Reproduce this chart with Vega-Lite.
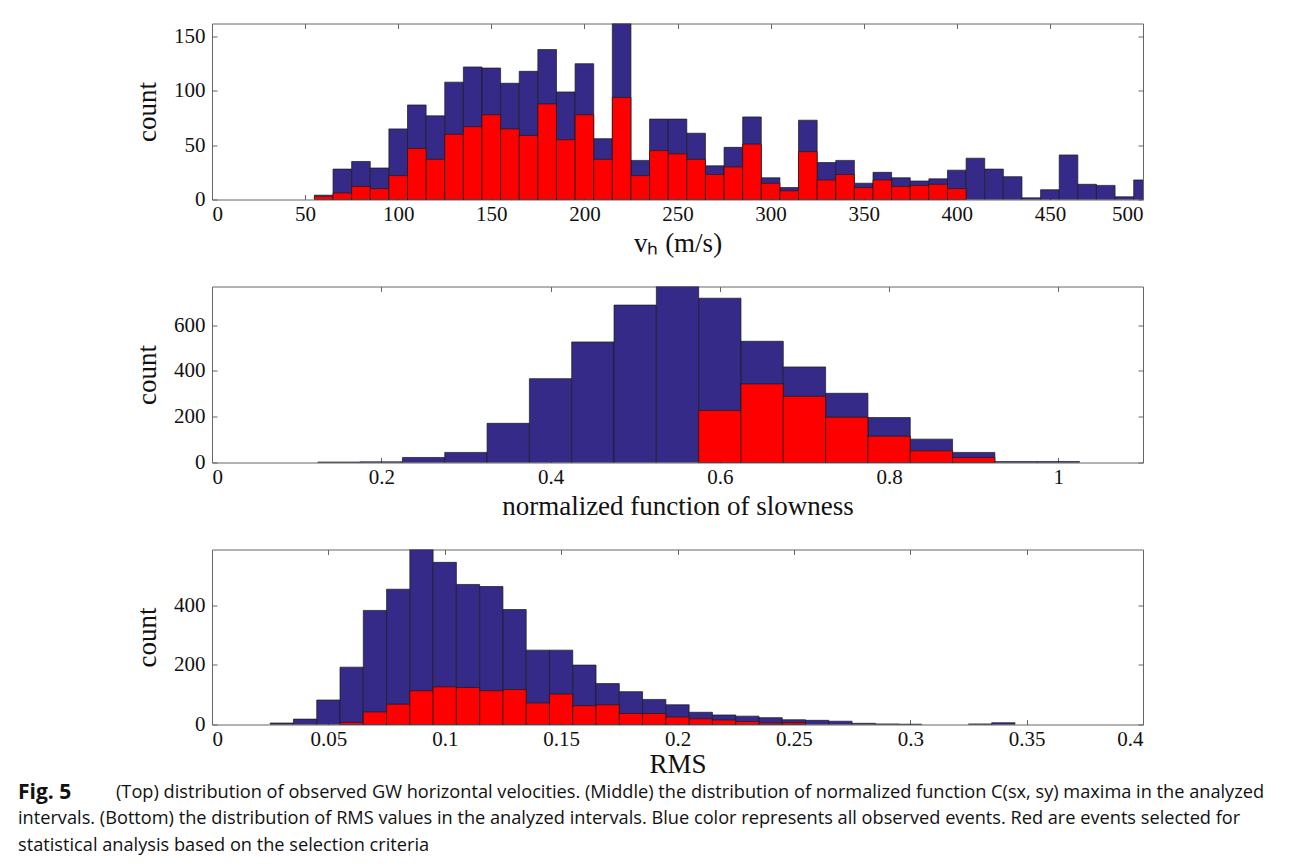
{
  "$schema": "https://vega.github.io/schema/vega-lite/v6.json",
  "padding": {"left": 18, "top": 22.5, "right": 5, "bottom": 5},
  "bounds": "flush",
  "spacing": 87,
  "background": "white",
  "config": {
    "view": {"stroke": "#666666", "strokeWidth": 1},
    "font": "Liberation Serif",
    "axis": {
      "grid": false,
      "domain": false,
      "tickSize": -5,
      "tickColor": "#666666",
      "tickWidth": 1,
      "labelFont": "Liberation Serif",
      "labelFontSize": 21,
      "labelColor": "#111111",
      "titleFont": "Liberation Serif",
      "titleFontSize": 27,
      "titleFontWeight": "normal",
      "titleColor": "#111111"
    },
    "axisBottom": {"labelPadding": 9, "titlePadding": 6},
    "axisLeft": {"labelPadding": 12, "titlePadding": 12}
  },
  "datasets": {
    "vh": [
      {"lo": 55, "hi": 65, "all": 4, "sel": 3},
      {"lo": 65, "hi": 75, "all": 28, "sel": 6},
      {"lo": 75, "hi": 85, "all": 35, "sel": 12},
      {"lo": 85, "hi": 95, "all": 29, "sel": 10},
      {"lo": 95, "hi": 105, "all": 65, "sel": 22},
      {"lo": 105, "hi": 115, "all": 87, "sel": 47},
      {"lo": 115, "hi": 125, "all": 77, "sel": 37},
      {"lo": 125, "hi": 135, "all": 108, "sel": 60},
      {"lo": 135, "hi": 145, "all": 122, "sel": 67},
      {"lo": 145, "hi": 155, "all": 121, "sel": 78},
      {"lo": 155, "hi": 165, "all": 107, "sel": 65},
      {"lo": 165, "hi": 175, "all": 118, "sel": 59},
      {"lo": 175, "hi": 185, "all": 138, "sel": 88},
      {"lo": 185, "hi": 195, "all": 99, "sel": 55},
      {"lo": 195, "hi": 205, "all": 125, "sel": 78},
      {"lo": 205, "hi": 215, "all": 56, "sel": 37},
      {"lo": 215, "hi": 225, "all": 162, "sel": 94},
      {"lo": 225, "hi": 235, "all": 36, "sel": 22},
      {"lo": 235, "hi": 245, "all": 74, "sel": 45},
      {"lo": 245, "hi": 255, "all": 74, "sel": 42},
      {"lo": 255, "hi": 265, "all": 61, "sel": 37},
      {"lo": 265, "hi": 275, "all": 31, "sel": 23},
      {"lo": 275, "hi": 285, "all": 48, "sel": 30},
      {"lo": 285, "hi": 295, "all": 76, "sel": 51},
      {"lo": 295, "hi": 305, "all": 20, "sel": 15},
      {"lo": 305, "hi": 315, "all": 11, "sel": 8},
      {"lo": 315, "hi": 325, "all": 73, "sel": 44},
      {"lo": 325, "hi": 335, "all": 34, "sel": 18},
      {"lo": 335, "hi": 345, "all": 36, "sel": 23},
      {"lo": 345, "hi": 355, "all": 15, "sel": 11},
      {"lo": 355, "hi": 365, "all": 25, "sel": 18},
      {"lo": 365, "hi": 375, "all": 20, "sel": 12},
      {"lo": 375, "hi": 385, "all": 17, "sel": 13},
      {"lo": 385, "hi": 395, "all": 19, "sel": 14},
      {"lo": 395, "hi": 405, "all": 27, "sel": 10},
      {"lo": 405, "hi": 415, "all": 38, "sel": 0},
      {"lo": 415, "hi": 425, "all": 28, "sel": 0},
      {"lo": 425, "hi": 435, "all": 21, "sel": 0},
      {"lo": 435, "hi": 445, "all": 1.5, "sel": 0},
      {"lo": 445, "hi": 455, "all": 9, "sel": 0},
      {"lo": 455, "hi": 465, "all": 41, "sel": 0},
      {"lo": 465, "hi": 475, "all": 14, "sel": 0},
      {"lo": 475, "hi": 485, "all": 13, "sel": 0},
      {"lo": 485, "hi": 495, "all": 2.5, "sel": 0},
      {"lo": 495, "hi": 505, "all": 18, "sel": 0}
    ],
    "slow": [
      {"lo": 0.125, "hi": 0.175, "all": 2, "sel": 0},
      {"lo": 0.175, "hi": 0.225, "all": 3, "sel": 0},
      {"lo": 0.225, "hi": 0.275, "all": 22, "sel": 0},
      {"lo": 0.275, "hi": 0.325, "all": 44, "sel": 0},
      {"lo": 0.325, "hi": 0.375, "all": 171, "sel": 0},
      {"lo": 0.375, "hi": 0.425, "all": 366, "sel": 0},
      {"lo": 0.425, "hi": 0.475, "all": 526, "sel": 0},
      {"lo": 0.475, "hi": 0.525, "all": 687, "sel": 0},
      {"lo": 0.525, "hi": 0.575, "all": 768, "sel": 0},
      {"lo": 0.575, "hi": 0.625, "all": 717, "sel": 227},
      {"lo": 0.625, "hi": 0.675, "all": 529, "sel": 343},
      {"lo": 0.675, "hi": 0.725, "all": 417, "sel": 289},
      {"lo": 0.725, "hi": 0.775, "all": 302, "sel": 198},
      {"lo": 0.775, "hi": 0.825, "all": 196, "sel": 115},
      {"lo": 0.825, "hi": 0.875, "all": 102, "sel": 51},
      {"lo": 0.875, "hi": 0.925, "all": 44, "sel": 22},
      {"lo": 0.925, "hi": 0.975, "all": 4, "sel": 0},
      {"lo": 0.975, "hi": 1.025, "all": 4, "sel": 0}
    ],
    "rms": [
      {"lo": 0.025, "hi": 0.035, "all": 5, "sel": 0},
      {"lo": 0.035, "hi": 0.045, "all": 18, "sel": 0},
      {"lo": 0.045, "hi": 0.055, "all": 82, "sel": 0},
      {"lo": 0.055, "hi": 0.065, "all": 192, "sel": 7},
      {"lo": 0.065, "hi": 0.075, "all": 382, "sel": 42},
      {"lo": 0.075, "hi": 0.085, "all": 453, "sel": 68},
      {"lo": 0.085, "hi": 0.095, "all": 586, "sel": 113},
      {"lo": 0.095, "hi": 0.105, "all": 543, "sel": 126},
      {"lo": 0.105, "hi": 0.115, "all": 469, "sel": 124},
      {"lo": 0.115, "hi": 0.125, "all": 462, "sel": 113},
      {"lo": 0.125, "hi": 0.135, "all": 385, "sel": 117},
      {"lo": 0.135, "hi": 0.145, "all": 249, "sel": 72},
      {"lo": 0.145, "hi": 0.155, "all": 249, "sel": 102},
      {"lo": 0.155, "hi": 0.165, "all": 199, "sel": 63},
      {"lo": 0.165, "hi": 0.175, "all": 137, "sel": 66},
      {"lo": 0.175, "hi": 0.185, "all": 110, "sel": 37},
      {"lo": 0.185, "hi": 0.195, "all": 84, "sel": 37},
      {"lo": 0.195, "hi": 0.205, "all": 66, "sel": 25},
      {"lo": 0.205, "hi": 0.215, "all": 41, "sel": 19},
      {"lo": 0.215, "hi": 0.225, "all": 32, "sel": 15},
      {"lo": 0.225, "hi": 0.235, "all": 28, "sel": 10},
      {"lo": 0.235, "hi": 0.245, "all": 23, "sel": 5},
      {"lo": 0.245, "hi": 0.255, "all": 16, "sel": 6},
      {"lo": 0.255, "hi": 0.265, "all": 14, "sel": 0},
      {"lo": 0.265, "hi": 0.275, "all": 11, "sel": 0},
      {"lo": 0.275, "hi": 0.285, "all": 4, "sel": 0},
      {"lo": 0.285, "hi": 0.295, "all": 2, "sel": 0},
      {"lo": 0.295, "hi": 0.305, "all": 1, "sel": 0},
      {"lo": 0.325, "hi": 0.335, "all": 2, "sel": 0},
      {"lo": 0.335, "hi": 0.345, "all": 6, "sel": 0}
    ],
    "caption": [
      {"line": 1, "part": "label", "text": "Fig. 5"},
      {"line": 1, "part": "body", "text": "(Top) distribution of observed GW horizontal velocities. (Middle) the distribution of normalized function C(sx, sy) maxima in the analyzed"},
      {"line": 2, "part": "cont", "text": "intervals. (Bottom) the distribution of RMS values in the analyzed intervals. Blue color represents all observed events. Red are events selected for"},
      {"line": 3, "part": "cont", "text": "statistical analysis based on the selection criteria"}
    ]
  },
  "vconcat": [
    {
      "width": 931,
      "height": 176,
      "data": {"name": "vh"},
      "layer": [
        {
          "mark": {"type": "bar", "color": "#352a87", "stroke": "#1a1a1a", "strokeWidth": 0.7, "clip": true},
          "encoding": {
            "x": {"field": "lo", "type": "quantitative", "scale": {"domain": [0, 500], "nice": false, "zero": false},
                  "axis": {"orient": "bottom", "values": [0, 50, 100, 150, 200, 250, 300, 350, 400, 450, 500], "title": "vₕ (m/s)"}},
            "x2": {"field": "hi"},
            "y": {"field": "all", "type": "quantitative", "scale": {"domain": [0, 162], "nice": false},
                  "axis": {"orient": "left", "values": [0, 50, 100, 150], "title": "count"}},
            "y2": {"datum": 0}
          }
        },
        {
          "transform": [{"filter": "datum.sel > 0"}],
          "mark": {"type": "bar", "color": "#ff0000", "stroke": "#1a1a1a", "strokeWidth": 0.7, "clip": true},
          "encoding": {
            "x": {"field": "lo", "type": "quantitative", "scale": {"domain": [0, 500], "nice": false, "zero": false},
                  "axis": {"orient": "top", "values": [0, 50, 100, 150, 200, 250, 300, 350, 400, 450, 500], "labels": false, "title": null}},
            "x2": {"field": "hi"},
            "y": {"field": "sel", "type": "quantitative", "scale": {"domain": [0, 162], "nice": false},
                  "axis": {"orient": "right", "values": [0, 50, 100, 150], "labels": false, "title": null}},
            "y2": {"datum": 0}
          }
        }
      ],
      "resolve": {"axis": {"x": "independent", "y": "independent"}}
    },
    {
      "width": 931,
      "height": 176,
      "data": {"name": "slow"},
      "layer": [
        {
          "mark": {"type": "bar", "color": "#352a87", "stroke": "#1a1a1a", "strokeWidth": 0.7, "clip": true},
          "encoding": {
            "x": {"field": "lo", "type": "quantitative", "scale": {"domain": [0, 1.1], "nice": false, "zero": false},
                  "axis": {"orient": "bottom", "values": [0, 0.2, 0.4, 0.6, 0.8, 1], "format": "~g", "title": "normalized function of slowness"}},
            "x2": {"field": "hi"},
            "y": {"field": "all", "type": "quantitative", "scale": {"domain": [0, 768], "nice": false},
                  "axis": {"orient": "left", "values": [0, 200, 400, 600], "title": "count"}},
            "y2": {"datum": 0}
          }
        },
        {
          "transform": [{"filter": "datum.sel > 0"}],
          "mark": {"type": "bar", "color": "#ff0000", "stroke": "#1a1a1a", "strokeWidth": 0.7, "clip": true},
          "encoding": {
            "x": {"field": "lo", "type": "quantitative", "scale": {"domain": [0, 1.1], "nice": false, "zero": false},
                  "axis": {"orient": "top", "values": [0, 0.2, 0.4, 0.6, 0.8, 1], "labels": false, "title": null}},
            "x2": {"field": "hi"},
            "y": {"field": "sel", "type": "quantitative", "scale": {"domain": [0, 768], "nice": false},
                  "axis": {"orient": "right", "values": [0, 200, 400, 600], "labels": false, "title": null}},
            "y2": {"datum": 0}
          }
        }
      ],
      "resolve": {"axis": {"x": "independent", "y": "independent"}}
    },
    {
      "width": 931,
      "height": 175,
      "data": {"name": "rms"},
      "layer": [
        {
          "mark": {"type": "bar", "color": "#352a87", "stroke": "#1a1a1a", "strokeWidth": 0.7, "clip": true},
          "encoding": {
            "x": {"field": "lo", "type": "quantitative", "scale": {"domain": [0, 0.4], "nice": false, "zero": false},
                  "axis": {"orient": "bottom", "values": [0, 0.05, 0.1, 0.15, 0.2, 0.25, 0.3, 0.35, 0.4], "format": "~g", "title": "RMS", "titlePadding": 2}},
            "x2": {"field": "hi"},
            "y": {"field": "all", "type": "quantitative", "scale": {"domain": [0, 586], "nice": false},
                  "axis": {"orient": "left", "values": [0, 200, 400], "title": "count"}},
            "y2": {"datum": 0}
          }
        },
        {
          "transform": [{"filter": "datum.sel > 0"}],
          "mark": {"type": "bar", "color": "#ff0000", "stroke": "#1a1a1a", "strokeWidth": 0.7, "clip": true},
          "encoding": {
            "x": {"field": "lo", "type": "quantitative", "scale": {"domain": [0, 0.4], "nice": false, "zero": false},
                  "axis": {"orient": "top", "values": [0, 0.05, 0.1, 0.15, 0.2, 0.25, 0.3, 0.35, 0.4], "labels": false, "title": null}},
            "x2": {"field": "hi"},
            "y": {"field": "sel", "type": "quantitative", "scale": {"domain": [0, 586], "nice": false},
                  "axis": {"orient": "right", "values": [0, 200, 400], "labels": false, "title": null}},
            "y2": {"datum": 0}
          }
        }
      ],
      "resolve": {"axis": {"x": "independent", "y": "independent"}}
    },
    {
      "width": 931,
      "height": 53,
      "view": {"stroke": null},
      "data": {"name": "caption"},
      "encoding": {
        "y": {"field": "line", "type": "quantitative", "scale": {"domain": [1, 3], "reverse": true}, "axis": null},
        "text": {"field": "text"}
      },
      "layer": [
        {
          "transform": [{"filter": "datum.part == 'label'"}],
          "mark": {"type": "text", "align": "left", "baseline": "middle", "font": "Open Sans", "fontWeight": "bold", "fontSize": 21, "color": "#111111", "dx": -194, "dy": -19},
          "encoding": {"x": {"value": 0}}
        },
        {
          "transform": [{"filter": "datum.part == 'body'"}],
          "mark": {"type": "text", "align": "left", "baseline": "middle", "font": "Open Sans", "fontSize": 18.2, "color": "#111111", "dx": -96, "dy": -19},
          "encoding": {"x": {"value": 0}}
        },
        {
          "transform": [{"filter": "datum.part == 'cont'"}],
          "mark": {"type": "text", "align": "left", "baseline": "middle", "font": "Open Sans", "fontSize": 18.2, "color": "#111111", "dx": -194, "dy": -19},
          "encoding": {"x": {"value": 0}}
        }
      ]
    }
  ]
}
